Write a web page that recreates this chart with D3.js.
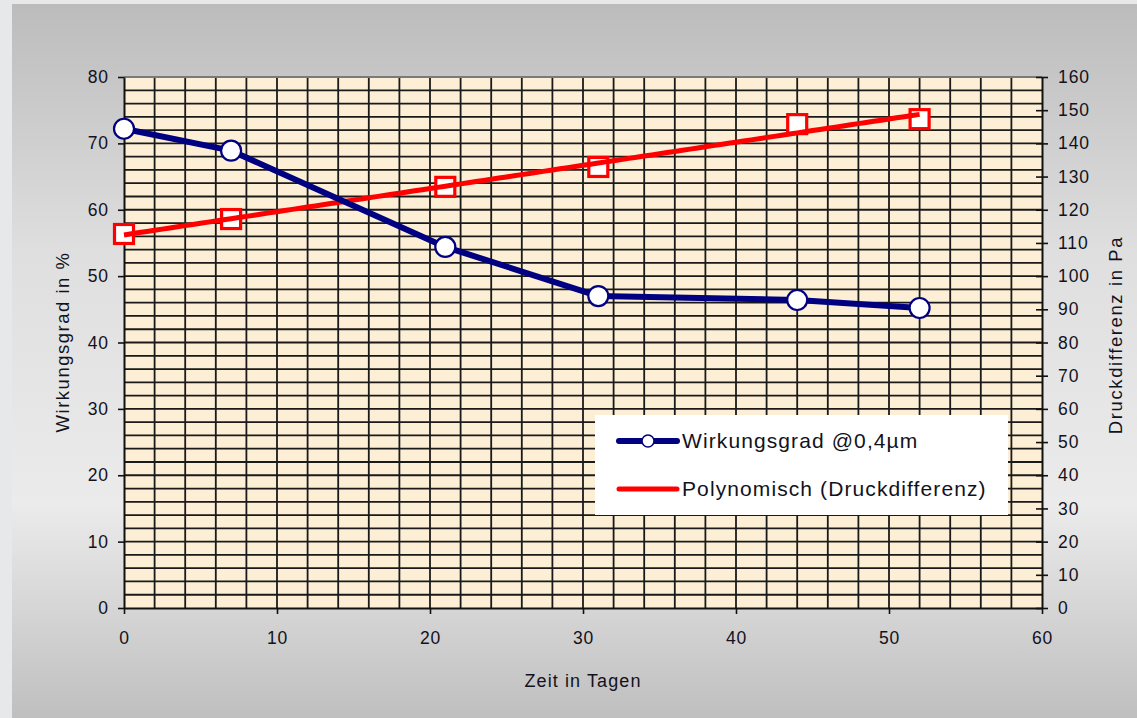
<!DOCTYPE html>
<html>
<head>
<meta charset="utf-8">
<script src="https://cdn.jsdelivr.net/npm/d3@7/dist/d3.min.js"></script>
<style>
  html, body { margin: 0; padding: 0; background: #e6e8ea; }
  svg { display: block; }
  text { font-family: "Liberation Sans", Arial, sans-serif; fill: #12121c; }
</style>
</head>
<body>
<svg id="chart" width="1137" height="718"></svg>
<script>
// Measurement days
const days = [0, 7, 21, 31, 44, 52];
// Filter efficiency at 0.4 µm, in %
const efficiency = [72.2, 68.9, 54.4, 47.0, 46.4, 45.2];
// Pressure difference across the filter, in Pa
const pressure = [112.7, 117.2, 126.9, 132.9, 145.8, 147.3];

const xTicks = [0, 10, 20, 30, 40, 50, 60];
const yLeftTicks = [0, 10, 20, 30, 40, 50, 60, 70, 80];
const yRightTicks = d3.range(0, 161, 10);

const legendLabels = ["Wirkungsgrad @0,4µm", "Polynomisch (Druckdifferenz)"];
const xTitle = "Zeit in Tagen";
const yLeftTitle = "Wirkungsgrad in %";
const yRightTitle = "Druckdifferenz in Pa";

const W = 1137, H = 718;
const plot = { left: 124, right: 1042, top: 77, bottom: 608 };

const svg = d3.select("#chart");
const defs = svg.append("defs");

// Panel background gradient
const grad = defs.append("linearGradient").attr("id", "panelGrad")
  .attr("x1", 0).attr("y1", 0).attr("x2", 0).attr("y2", 1);
[[0, "#bcbcbc"], [0.35, "#dfdfdf"], [0.7, "#ebebeb"], [1, "#bfbfbf"]]
  .forEach(([o, c]) => grad.append("stop").attr("offset", o).attr("stop-color", c));

svg.append("rect").attr("width", W).attr("height", H).attr("fill", "#e6e8ea");
svg.append("rect").attr("x", 12).attr("y", 4).attr("width", W - 12).attr("height", H - 4)
  .attr("fill", "url(#panelGrad)");

const x = d3.scaleLinear().domain([0, 60]).range([plot.left, plot.right]);
const yL = d3.scaleLinear().domain([0, 80]).range([plot.bottom, plot.top]);
const yR = d3.scaleLinear().domain([0, 160]).range([plot.bottom, plot.top]);

// Plot area
svg.append("rect")
  .attr("x", plot.left).attr("y", plot.top)
  .attr("width", plot.right - plot.left).attr("height", plot.bottom - plot.top)
  .attr("fill", "#fcefd6");

// Grid: every 2 days, every 2 % on the left scale
const grid = svg.append("g").attr("stroke", "#1a1a1a").attr("stroke-width", 1.8);
grid.selectAll("line.v").data(d3.range(2, 60, 2)).join("line")
  .attr("x1", d => x(d)).attr("x2", d => x(d))
  .attr("y1", plot.top).attr("y2", plot.bottom);
grid.selectAll("line.h").data(d3.range(2, 80, 2)).join("line")
  .attr("y1", d => yL(d)).attr("y2", d => yL(d))
  .attr("x1", plot.left).attr("x2", plot.right);

// Top border of plot
svg.append("line").attr("x1", plot.left).attr("x2", plot.right)
  .attr("y1", plot.top).attr("y2", plot.top)
  .attr("stroke", "#7a7a7a").attr("stroke-width", 2);

// Axes
function styleAxis(g) {
  g.selectAll("path.domain").attr("stroke", "#111").attr("stroke-width", 2);
  g.selectAll(".tick line").attr("stroke", "#111").attr("stroke-width", 1.6);
  g.selectAll(".tick text").attr("font-size", 17.5).attr("letter-spacing", "0.9px")
    .attr("font-family", "Liberation Sans, Arial, sans-serif").attr("fill", "#12121c");
}

svg.append("g").attr("transform", `translate(0,${plot.bottom})`)
  .call(d3.axisBottom(x).tickValues(xTicks).tickSize(6).tickSizeOuter(0).tickPadding(18))
  .call(styleAxis);

svg.append("g").attr("transform", `translate(${plot.left},0)`)
  .call(d3.axisLeft(yL).tickValues(yLeftTicks).tickSize(6).tickSizeOuter(0).tickPadding(9))
  .call(styleAxis);

const rAxis = svg.append("g").attr("transform", `translate(${plot.right},0)`)
  .call(d3.axisRight(yR).tickValues(yRightTicks).tickSize(6).tickSizeOuter(0).tickPadding(10))
  .call(styleAxis);
rAxis.selectAll(".tick line").attr("x1", -6);

// Axis titles
svg.append("text").attr("x", 583).attr("y", 687).attr("text-anchor", "middle")
  .attr("font-size", 18).attr("letter-spacing", "1.1px").text(xTitle);
svg.append("text").attr("transform", "translate(69,342) rotate(-90)")
  .attr("text-anchor", "middle").attr("font-size", 18.5).attr("letter-spacing", "1.5px").text(yLeftTitle);
svg.append("text").attr("transform", "translate(1122,335) rotate(-90)")
  .attr("text-anchor", "middle").attr("font-size", 18.5).attr("letter-spacing", "1.6px").text(yRightTitle);

// Pressure markers
const pts = days.map((d, i) => ({ d, p: pressure[i] }));
const sq = 19;
svg.append("g").selectAll("rect").data(pts).join("rect")
  .attr("x", o => x(o.d) - sq / 2).attr("y", o => yR(o.p) - sq / 2)
  .attr("width", sq).attr("height", sq)
  .attr("fill", "#fff").attr("stroke", "#ff0000").attr("stroke-width", 3.2);

// Second-order least-squares trend of the pressure readings
function polyFit2(xs, ys) {
  const n = xs.length;
  let s = [0, 0, 0, 0, 0], t = [0, 0, 0];
  for (let i = 0; i < n; i++) {
    const xi = xs[i], yi = ys[i];
    for (let k = 0; k < 5; k++) s[k] += Math.pow(xi, k);
    for (let k = 0; k < 3; k++) t[k] += yi * Math.pow(xi, k);
  }
  const A = [[s[0], s[1], s[2], t[0]], [s[1], s[2], s[3], t[1]], [s[2], s[3], s[4], t[2]]];
  for (let c = 0; c < 3; c++) {
    for (let r = c + 1; r < 3; r++) {
      const f = A[r][c] / A[c][c];
      for (let k = c; k < 4; k++) A[r][k] -= f * A[c][k];
    }
  }
  const b = [0, 0, 0];
  for (let r = 2; r >= 0; r--) {
    let v = A[r][3];
    for (let k = r + 1; k < 3; k++) v -= A[r][k] * b[k];
    b[r] = v / A[r][r];
  }
  return v => b[0] + b[1] * v + b[2] * v * v;
}
const trend = polyFit2(days, pressure);
const trendPts = d3.range(0, 52.01, 0.5).map(d => ({ d, p: trend(d) }));
svg.append("path").datum(trendPts)
  .attr("fill", "none").attr("stroke", "#ff0000").attr("stroke-width", 5)
  .attr("d", d3.line().x(o => x(o.d)).y(o => yR(o.p)));

// Efficiency series
const eff = days.map((d, i) => ({ d, e: efficiency[i] }));
svg.append("path").datum(eff)
  .attr("fill", "none").attr("stroke", "#000080").attr("stroke-width", 6)
  .attr("stroke-linejoin", "round")
  .attr("d", d3.line().x(o => x(o.d)).y(o => yL(o.e)));
svg.append("g").selectAll("circle").data(eff).join("circle")
  .attr("cx", o => x(o.d)).attr("cy", o => yL(o.e)).attr("r", 10)
  .attr("fill", "#fff").attr("stroke", "#000080").attr("stroke-width", 2.2);

// Legend
const lg = svg.append("g");
lg.append("rect").attr("x", 595).attr("y", 415).attr("width", 413).attr("height", 100).attr("fill", "#fff");
lg.append("line").attr("x1", 619).attr("x2", 677).attr("y1", 441).attr("y2", 441)
  .attr("stroke", "#000080").attr("stroke-width", 6).attr("stroke-linecap", "round");
lg.append("circle").attr("cx", 648).attr("cy", 441).attr("r", 6)
  .attr("fill", "#fff").attr("stroke", "#000080").attr("stroke-width", 1.5);
lg.append("line").attr("x1", 619).attr("x2", 677).attr("y1", 489).attr("y2", 489)
  .attr("stroke", "#ff0000").attr("stroke-width", 5).attr("stroke-linecap", "round");
lg.selectAll("text.lab").data(legendLabels).join("text")
  .attr("x", 682).attr("y", (d, i) => 448 + i * 48)
  .attr("font-size", 21).attr("letter-spacing", "1.1px").text(d => d);
</script>
</body>
</html>
